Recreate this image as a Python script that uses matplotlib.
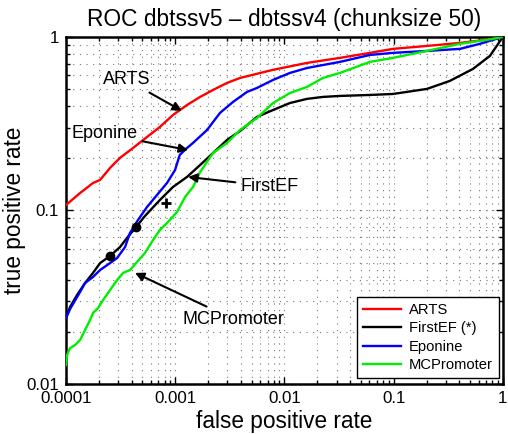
import matplotlib
matplotlib.use("Agg")
import matplotlib.pyplot as plt

plt.rcParams['font.family'] = ['Liberation Sans', 'DejaVu Sans']

# ---- data ----
arts_fpr = [1e-4, 1.343e-4, 1.766e-4, 2.05e-4, 2.53e-4, 3.12e-4, 4.10e-4, 5.51e-4, 7.24e-4, 9.53e-4,
            1.28e-3, 1.69e-3, 2.22e-3, 2.98e-3, 3.92e-3, 7.85e-3, 0.01607, 0.03222, 0.0607, 0.0984,
            0.2014, 0.404, 0.810, 1.0]
arts_tpr = [0.1076, 0.126, 0.144, 0.150, 0.176, 0.201, 0.229, 0.265, 0.303, 0.355,
            0.405, 0.451, 0.495, 0.543, 0.580, 0.646, 0.708, 0.757, 0.809, 0.853,
            0.887, 0.923, 0.974, 1.0]

firstef_fpr = [1e-4, 1.088e-4, 1.261e-4, 1.493e-4, 1.766e-4, 2.05e-4, 2.53e-4, 3.12e-4, 3.61e-4, 4.38e-4,
               5.28e-4, 7.24e-4, 9.53e-4, 1.28e-3, 1.69e-3, 2.22e-3, 2.98e-3, 3.92e-3, 5.60e-3, 7.85e-3,
               0.01122, 0.01607, 0.02249, 0.03222, 0.0607, 0.0984, 0.2014, 0.327, 0.5315, 0.760, 1.0]
firstef_tpr = [0.0240, 0.0278, 0.0326, 0.0382, 0.0437, 0.0498, 0.0547, 0.0616, 0.0694, 0.0803,
               0.0930, 0.115, 0.1366, 0.156, 0.1829, 0.2145, 0.255, 0.287, 0.346, 0.379,
               0.416, 0.4395, 0.451, 0.457, 0.463, 0.469, 0.5015, 0.558, 0.654, 0.777, 1.0]

eponine_fpr = [1e-4, 1.088e-4, 1.343e-4, 1.493e-4, 1.766e-4, 2.05e-4, 2.53e-4, 2.93e-4, 3.47e-4, 3.85e-4,
               4.56e-4, 5.51e-4, 6.81e-4, 8.40e-4, 9.95e-4, 1.10e-3, 1.28e-3, 1.454e-3, 1.955e-3, 2.57e-3,
               3.38e-3, 4.54e-3, 5.60e-3, 7.85e-3, 0.01122, 0.01607, 0.03222, 0.0607, 0.0984, 0.2014,
               0.404, 0.616, 1.0]
eponine_tpr = [0.0240, 0.02705, 0.0339, 0.0382, 0.0414, 0.0454, 0.0498, 0.0532, 0.0616, 0.0742,
               0.0882, 0.1047, 0.1229, 0.144, 0.171, 0.209, 0.229, 0.245, 0.291, 0.365,
               0.422, 0.482, 0.508, 0.565, 0.620, 0.662, 0.718, 0.787, 0.809, 0.830,
               0.853, 0.912, 1.0]

mcp_fpr = [1e-4, 1.021e-4, 1.088e-4, 1.209e-4, 1.343e-4, 1.493e-4, 1.66e-4, 1.766e-4, 1.963e-4, 2.182e-4,
           2.53e-4, 2.93e-4, 3.33e-4, 3.85e-4, 4.47e-4, 5.28e-4, 6.26e-4, 7.24e-4, 8.40e-4, 1.038e-3,
           1.23e-3, 1.454e-3, 1.69e-3, 2.22e-3, 2.98e-3, 3.92e-3, 5.60e-3, 7.85e-3, 0.01122, 0.01607,
           0.02249, 0.03222, 0.0607, 0.0984, 0.2014, 0.404, 0.810, 1.0]
mcp_tpr = [0.0129, 0.01469, 0.01612, 0.01678, 0.01793, 0.0205, 0.0234, 0.02566, 0.02742, 0.03049,
           0.0348, 0.0397, 0.0437, 0.0454, 0.0505, 0.0569, 0.0676, 0.0773, 0.0847, 0.0980,
           0.1197, 0.1366, 0.1667, 0.2145, 0.245, 0.291, 0.341, 0.416, 0.475, 0.515,
           0.580, 0.620, 0.718, 0.757, 0.830, 0.912, 0.974, 1.0]

dot_fpr = [2.53e-4, 4.38e-4]
dot_tpr = [0.0547, 0.0803]
plus_fpr = [8.22e-4]
plus_tpr = [0.110]

series_labels = ['ARTS', 'FirstEF (*)', 'Eponine', 'MCPromoter']
series_colors = ['#ff0000', '#000000', '#0000ff', '#00ee00']

# annotation: (text, arrow tip xy, text centre xy)
annotations = [
    ('ARTS', (1.15e-3, 0.375), (3.61e-4, 0.565)),
    ('Eponine', (1.31e-3, 0.223), (2.23e-4, 0.276)),
    ('FirstEF', (1.31e-3, 0.156), (7.36e-3, 0.138)),
    ('MCPromoter', (4.28e-4, 0.0437), (3.38e-3, 0.0237)),
]

xticks = [1e-4, 1e-3, 1e-2, 1e-1, 1]
xticklabels = ['0.0001', '0.001', '0.01', '0.1', '1']
yticks = [0.01, 0.1, 1]
yticklabels = ['0.01', '0.1', '1']

# ---- figure ----
fig = plt.figure(figsize=(5.08, 4.34), dpi=100)
ax = fig.add_axes([0.130, 0.115, 0.860, 0.800])

lw = 1.7
ax.plot(arts_fpr, arts_tpr, color=series_colors[0], lw=lw, label=series_labels[0], zorder=3)
ax.plot(firstef_fpr, firstef_tpr, color=series_colors[1], lw=lw, label=series_labels[1], zorder=3)
ax.plot(eponine_fpr, eponine_tpr, color=series_colors[2], lw=lw, label=series_labels[2], zorder=3)
ax.plot(mcp_fpr, mcp_tpr, color=series_colors[3], lw=lw, label=series_labels[3], zorder=3)

ax.plot(dot_fpr, dot_tpr, 'o', color='black', ms=6, zorder=4)
ax.plot(plus_fpr, plus_tpr, '+', color='black', ms=7, mew=2, zorder=4)

ax.set_xscale('log')
ax.set_yscale('log')
ax.set_xlim(1e-4, 1)
ax.set_ylim(0.01, 1)

ax.set_xticks(xticks)
ax.set_xticklabels(xticklabels)
ax.set_yticks(yticks)
ax.set_yticklabels(yticklabels)

ax.tick_params(which='both', direction='in', top=True, right=True, labelsize=12.2, width=1)
ax.tick_params(which='major', length=5, pad=5)
ax.tick_params(which='minor', length=3)

ax.grid(True, which='both', linestyle=(0, (1, 5)), color='0.45', lw=0.8)
ax.set_axisbelow(True)

for s in ax.spines.values():
    s.set_linewidth(1.8)

for txt, tip, pos in annotations:
    ax.annotate(txt, xy=tip, xytext=pos, fontsize=13, ha='center', va='center',
                arrowprops=dict(arrowstyle='-|>', color='black', lw=1.5,
                                mutation_scale=13, shrinkA=2, shrinkB=0),
                zorder=5)

ax.set_title('ROC dbtssv5 \u2013 dbtssv4 (chunksize 50)', fontsize=16.4, pad=8)
ax.set_xlabel('false positive rate', fontsize=16.3, labelpad=3)
ax.set_ylabel('true positive rate', fontsize=16.3, labelpad=0)

leg = ax.legend(loc='lower right', bbox_to_anchor=(0.99, 0.017), borderaxespad=0,
                fontsize=10.6, fancybox=False, framealpha=1, edgecolor='black',
                handlelength=2.6, labelspacing=0.3, borderpad=0.4, handletextpad=0.5)
leg.get_frame().set_linewidth(1.0)

fig.savefig('out.png', dpi=100)
